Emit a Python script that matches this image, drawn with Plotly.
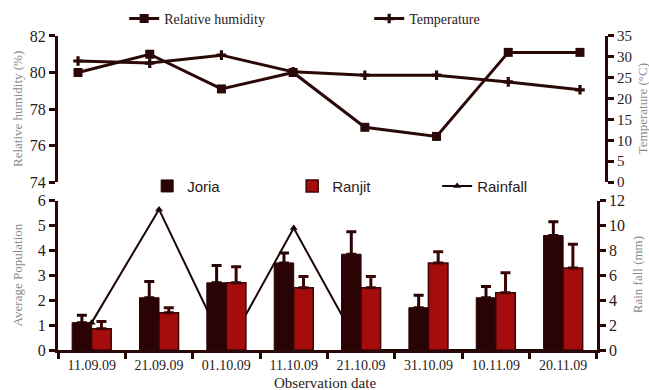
import plotly.graph_objects as go

dates = ["11.09.09", "21.09.09", "01.10.09", "11.10.09", "21.10.09", "31.10.09", "10.11.09", "20.11.09"]
humidity = [80.0, 81.0, 79.1, 80.0, 77.0, 76.5, 81.1, 81.1]
temperature = [29.0, 28.5, 30.4, 26.4, 25.6, 25.6, 24.0, 22.1]
joria = [1.1, 2.1, 2.7, 3.5, 3.85, 1.7, 2.1, 4.6]
joria_err = [0.3, 0.65, 0.7, 0.4, 0.9, 0.5, 0.45, 0.55]
ranjit = [0.85, 1.5, 2.7, 2.5, 2.5, 3.5, 2.3, 3.3]
ranjit_err = [0.3, 0.2, 0.65, 0.45, 0.45, 0.45, 0.8, 0.95]
rainfall = [2.2, 11.3, 0.0, 9.8, 0.0, 0.0, 0.0, 0.0]

idx = list(range(len(dates)))
AX = "#2a0808"
SERIF = "Liberation Serif, Times New Roman, serif"
SANS = "Liberation Sans, Arial, sans-serif"
GRAY = "#8a8a8a"

fig = go.Figure()

# Top panel lines
fig.add_trace(go.Scatter(x=idx, y=humidity, name="Relative humidity", mode="lines+markers",
                         line=dict(color=AX, width=3), marker=dict(symbol="square", size=9, color=AX),
                         xaxis="x", yaxis="y", legend="legend", legendrank=1))
fig.add_trace(go.Scatter(x=idx, y=temperature, name="Temperature", mode="lines+markers",
                         line=dict(color=AX, width=3),
                         marker=dict(symbol="cross", size=8, color=AX),
                         xaxis="x", yaxis="y2", legend="legend", legendrank=2))

# Bottom panel: rainfall (base axis, drawn beneath) then bars
fig.add_trace(go.Scatter(x=dates, y=rainfall, name="Rainfall", mode="lines+markers",
                         line=dict(color="#1a0505", width=2),
                         marker=dict(symbol="triangle-up", size=7, color="#1a0505"),
                         xaxis="x2", yaxis="y3", legend="legend2", legendrank=3))
fig.add_trace(go.Bar(x=dates, y=joria, name="Joria",
                     marker=dict(color="#2a0404", line=dict(color="#2a0404", width=1)),
                     error_y=dict(type="data", array=joria_err, arrayminus=[0]*len(joria), symmetric=False,
                                  color="#2a0404", thickness=3, width=5),
                     xaxis="x2", yaxis="y4", legend="legend2", legendrank=1))
fig.add_trace(go.Bar(x=dates, y=ranjit, name="Ranjit",
                     marker=dict(color="#a50c0c", line=dict(color="#3a0505", width=1.5)),
                     error_y=dict(type="data", array=ranjit_err, arrayminus=[0]*len(ranjit), symmetric=False,
                                  color="#3a0505", thickness=3, width=5),
                     xaxis="x2", yaxis="y4", legend="legend2", legendrank=2))

tickfont = dict(family=SERIF, size=16, color="#2a1a1a")
common = dict(showline=True, linecolor=AX, linewidth=3, ticks="outside", ticklen=6, tickwidth=3,
              tickcolor=AX, showgrid=False, zeroline=False, automargin=False)

fig.update_layout(
    width=649, height=390,
    margin=dict(l=58, r=44, t=35, b=40, autoexpand=False),
    paper_bgcolor="white", plot_bgcolor="rgba(0,0,0,0)",
    barmode="group", bargap=0.42, bargroupgap=0.0,
    xaxis=dict(domain=[0, 1], anchor="y", range=[-0.279, 7.349], visible=False),
    yaxis=dict(domain=[0.533, 0.997], range=[74, 82], dtick=2, side="left", anchor="x",
               tickfont=tickfont, **common),
    yaxis2=dict(overlaying="y", side="right", anchor="x", range=[0, 35], dtick=5,
                tickfont=dict(family=SERIF, size=15, color="#2a1a1a"), **common),
    xaxis2=dict(domain=[0, 0.985], anchor="y3", type="category", range=[-0.5, 7.5],
                tickson="boundaries", ticklabelstandoff=0,
                tickfont=dict(family=SERIF, size=14, color="#2a1a1a"), **common),
    yaxis3=dict(domain=[0, 0.474], range=[0, 12], dtick=2, side="right", anchor="x2",
                tickfont=tickfont, **common),
    yaxis4=dict(overlaying="y3", side="left", anchor="x2", range=[0, 6], dtick=1,
                tickfont=tickfont, **common),
    legend=dict(orientation="h", x=0.121, xanchor="left", y=1.051, yanchor="middle",
                font=dict(family=SERIF, size=14, color="#2a1a1a"), entrywidth=200,
                bgcolor="rgba(0,0,0,0)", traceorder="normal"),
    legend2=dict(orientation="h", x=0.163, xanchor="left", y=0.52, yanchor="middle",
                 font=dict(family=SANS, size=15, color="#2a1a1a"), entrywidth=100,
                 bgcolor="rgba(0,0,0,0)", traceorder="normal"),
    showlegend=True,
)

# axis titles
ann = dict(xref="paper", yref="paper", showarrow=False, textangle=-90, xanchor="center", yanchor="middle",
           font=dict(family=SERIF, size=13, color=GRAY))
fig.add_annotation(text="Relative humidity (%)", x=-0.075, y=0.765, **ann)
fig.add_annotation(text="Average Population", x=-0.075, y=0.24, **ann)
fig.add_annotation(text="Temperature (°C)", x=1.068, y=0.765, **ann)
fig.add_annotation(text="Rain fall (mm)", x=1.06, y=0.24, **ann)
fig.add_annotation(text="Observation date", xref="paper", yref="paper", x=0.488, y=-0.106,
                   xanchor="center", yanchor="middle", showarrow=False,
                   font=dict(family=SERIF, size=15, color="#2a1a1a"))

fig.write_html("out.html")
